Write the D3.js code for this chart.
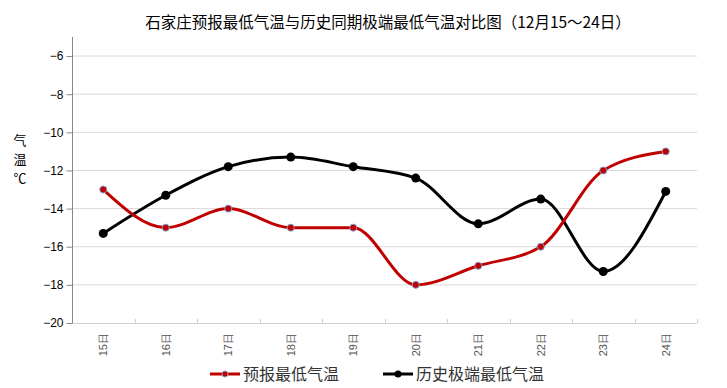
<!DOCTYPE html>
<html>
<head>
<meta charset="utf-8">
<script src="https://cdn.jsdelivr.net/npm/d3@7"></script>
<style>
  body { margin: 0; background: #fff; }
  text { font-family: "Liberation Sans", Arial, sans-serif; }
  .cjk { font-family: "Noto Sans CJK SC", sans-serif; }
</style>
</head>
<body>
<div id="chart"></div>
<script>
/* DATA */
const days = ["15日", "16日", "17日", "18日", "19日", "20日", "21日", "22日", "23日", "24日"];
const forecastMin = [-13, -15, -14, -15, -15, -18, -17, -16, -12, -11];
const historyMin = [-15.3, -13.3, -11.8, -11.3, -11.8, -12.4, -14.8, -13.5, -17.3, -13.1];
const yTicks = [-6, -8, -10, -12, -14, -16, -18, -20];

const width = 727,
  height = 388,
  margin = { top: 37, bottom: 65, left: 72, right: 30 };

const svg = d3.select("#chart")
  .append("svg")
  .attr("width", width)
  .attr("height", height);

const xScale = d3.scaleBand()
  .domain(days)
  .range([margin.left, width - margin.right]);

const yScale = d3.scaleLinear()
  .domain([-20, -5])
  .range([height - margin.bottom, margin.top]);

// title
svg.append("text")
  .attr("class", "cjk")
  .attr("x", 388)
  .attr("y", 28)
  .attr("text-anchor", "middle")
  .attr("font-size", 15.5)
  .attr("fill", "#000")
  .text("石家庄预报最低气温与历史同期极端最低气温对比图（12月15～24日）");

// gridlines
svg.append("g")
  .selectAll("line")
  .data(yTicks.filter(d => d !== -20))
  .join("line")
  .attr("x1", margin.left)
  .attr("x2", width - margin.right)
  .attr("y1", d => yScale(d))
  .attr("y2", d => yScale(d))
  .attr("stroke", "#d9d9d9");

// x axis line + ticks (upward)
const xAxis = svg.append("g");
xAxis.append("line")
  .attr("x1", margin.left)
  .attr("x2", width - margin.right)
  .attr("y1", yScale(-20) + 0.5)
  .attr("y2", yScale(-20) + 0.5)
  .attr("stroke", "#d0d0d0");
xAxis.selectAll(".tk")
  .data(days)
  .join("line")
  .attr("class", "tk")
  .attr("x1", d => Math.round(xScale(d) + xScale.bandwidth()) + 0.5)
  .attr("x2", d => Math.round(xScale(d) + xScale.bandwidth()) + 0.5)
  .attr("y1", yScale(-20) - 4)
  .attr("y2", yScale(-20))
  .attr("stroke", "#d0d0d0");

xAxis.selectAll(".lbl")
  .data(days)
  .join("text")
  .attr("class", "lbl")
  .attr("transform", d => `translate(${xScale(d) + xScale.bandwidth() / 2 + 4},${yScale(-20) + 10}) rotate(-90)`)
  .attr("text-anchor", "end")
  .attr("font-size", 11)
  .attr("fill", "#555")
  .text(d => d);

// y axis
const yAxis = d3.axisLeft(yScale)
  .tickValues(yTicks)
  .tickSize(6)
  .tickFormat(d => d3.format("")(d).replace("-", "−"));

svg.append("g")
  .attr("transform", `translate(${margin.left + 0.5},0)`)
  .call(yAxis)
  .call(g => g.select(".domain").attr("stroke", "#888").attr("d", `M0,${margin.top}V${yScale(-20)}`))
  .call(g => g.selectAll(".tick line").attr("stroke", "#888"))
  .call(g => g.selectAll(".tick text")
    .attr("font-size", 12)
    .attr("fill", "#000")
    .attr("x", -9)
    .attr("font-family", "Liberation Sans, Arial, sans-serif"));

// y label, stacked characters
svg.append("g")
  .selectAll("text")
  .data(["气", "温", "℃"])
  .join("text")
  .attr("class", "cjk")
  .attr("x", 20)
  .attr("y", (d, i) => 145 + i * 19)
  .attr("text-anchor", "middle")
  .attr("font-size", 13)
  .attr("fill", "#000")
  .text(d => d);

// lines
const cx = (d, i) => xScale(days[i]) + xScale.bandwidth() / 2;
const line = d3.line()
  .x((d, i) => cx(d, i))
  .y(d => yScale(d))
  .curve(d3.curveMonotoneX);

svg.append("path")
  .datum(historyMin)
  .attr("d", line)
  .attr("fill", "none")
  .attr("stroke", "#000")
  .attr("stroke-width", 3);

svg.append("path")
  .datum(forecastMin)
  .attr("d", line)
  .attr("fill", "none")
  .attr("stroke", "#c00000")
  .attr("stroke-width", 3);

svg.append("g")
  .selectAll("circle")
  .data(historyMin)
  .join("circle")
  .attr("cx", cx)
  .attr("cy", d => yScale(d))
  .attr("r", 4.5)
  .attr("fill", "#000");

svg.append("g")
  .selectAll("circle")
  .data(forecastMin)
  .join("circle")
  .attr("cx", cx)
  .attr("cy", d => yScale(d))
  .attr("r", 3.5)
  .attr("fill", "#c00000")
  .attr("stroke", "#7f9fd0")
  .attr("stroke-width", 1);

// legend
const legendItems = [
  { name: "预报最低气温", color: "#c00000", x: 210, r: 3, stroke: "#7f9fd0" },
  { name: "历史极端最低气温", color: "#000", x: 383, r: 3.5, stroke: "none" }
];
const lg = svg.append("g")
  .selectAll("g")
  .data(legendItems)
  .join("g")
  .attr("transform", d => `translate(${d.x},374)`);
lg.append("line")
  .attr("x1", 0).attr("x2", 30)
  .attr("stroke", d => d.color)
  .attr("stroke-width", 3);
lg.append("circle")
  .attr("cx", 15)
  .attr("r", d => d.r)
  .attr("fill", d => d.color)
  .attr("stroke", d => d.stroke);
lg.append("text")
  .attr("class", "cjk")
  .attr("x", 33)
  .attr("y", 6)
  .attr("font-size", 16)
  .attr("fill", "#333")
  .text(d => d.name);
</script>
</body>
</html>
